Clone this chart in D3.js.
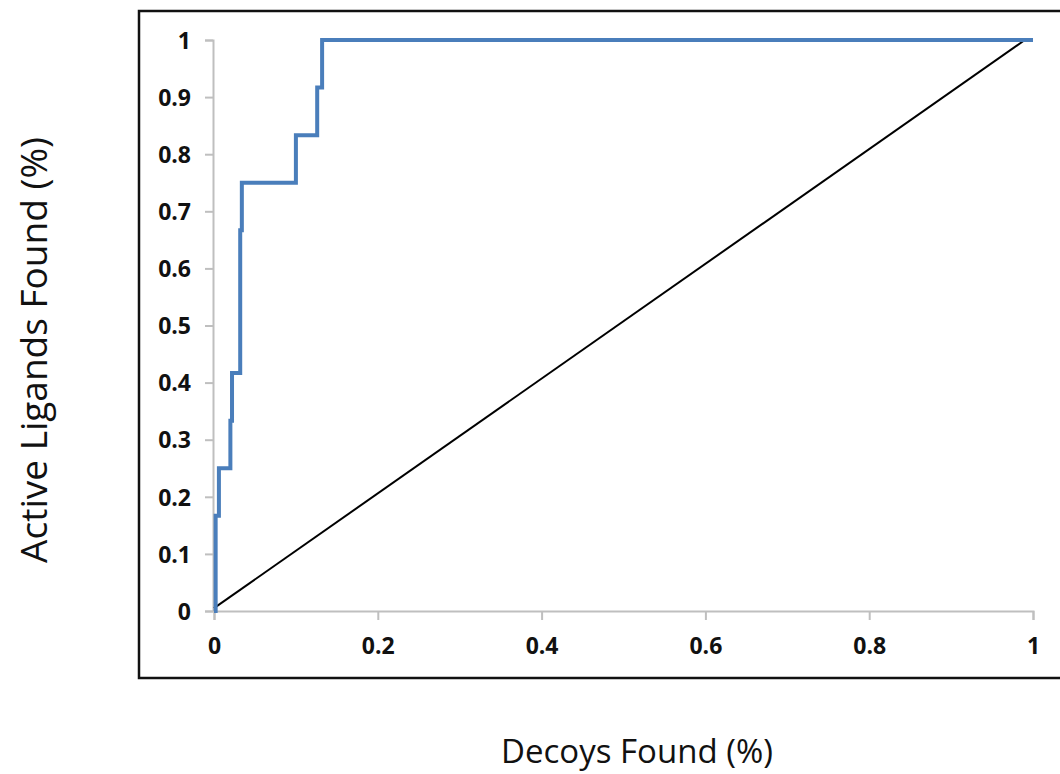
<!DOCTYPE html>
<html>
<head>
<meta charset="utf-8">
<script src="https://cdn.jsdelivr.net/npm/d3@7"></script>
<style>
  body { margin: 0; background: #fff; }
</style>
</head>
<body>
<div id="grafica"></div>
<script>
// datos de la curva ROC (fraccion de decoys, fraccion de activos)
decoys  = [0, 0.002, 0.002, 0.006, 0.020, 0.022, 0.032, 0.032, 0.032, 0.034, 0.100, 0.126, 0.132, 1.0]
activos = [0, 0.083, 0.167, 0.250, 0.333, 0.417, 0.500, 0.583, 0.667, 0.750, 0.833, 0.917, 1.000, 1.0]

// linea de referencia (azar)
azar_x = [0, 0.99]
azar_y = [0.005, 1]

xTicks = [0, 0.2, 0.4, 0.6, 0.8, 1]
yTicks = [0, 0.1, 0.2, 0.3, 0.4, 0.5, 0.6, 0.7, 0.8, 0.9, 1]

ancho_total = 1060
alto_total  = 774

svg = d3
        .select('#grafica')
        .append('svg')
        .attr('width', ancho_total)
        .attr('height', alto_total)

// marco del grafico
svg.append('rect')
    .attr('x', 139)
    .attr('y', 11)
    .attr('width', 1000)
    .attr('height', 667)
    .attr('fill', 'none')
    .attr('stroke', '#111')
    .attr('stroke-width', 2.5)

x = d3.scaleLinear().domain([0, 1]).range([214, 1033])
y = d3.scaleLinear().domain([0, 1]).range([611, 40])

xAxisCall = d3.axisBottom(x)
              .tickValues(xTicks)
              .tickFormat(d3.format('~g'))
              .tickSize(9)
              .tickPadding(14)
yAxisCall = d3.axisLeft(y)
              .tickValues(yTicks)
              .tickFormat(d3.format('~g'))
              .tickSize(8)
              .tickPadding(14)

xGroup = svg.append('g')
  .attr('transform', `translate(0, ${y(0)})`)
  .call(xAxisCall)
yGroup = svg.append('g')
  .attr('transform', `translate(${x(0) - 1}, 0)`)
  .call(yAxisCall)

;[xGroup, yGroup].forEach((gr) => {
  gr.selectAll('path.domain, line')
    .attr('stroke', '#bfbfbf')
    .attr('stroke-width', 2)
  gr.selectAll('text')
    .attr('font-family', 'Open Sans')
    .attr('font-weight', 'bold')
    .attr('font-size', '23px')
    .attr('fill', '#111')
})
xGroup.selectAll('text').attr('dy', '0.85em')
yGroup.selectAll('text').attr('dy', '0.36em')

// linea diagonal
svg.append('path')
  .datum(d3.zip(azar_x, azar_y))
  .attr('d', d3.line().x((d) => x(d[0])).y((d) => y(d[1])))
  .attr('fill', 'none')
  .attr('stroke', '#000')
  .attr('stroke-width', 2)

// curva ROC escalonada
svg.append('path')
  .datum(d3.zip(decoys, activos))
  .attr('d', d3.line()
                .curve(d3.curveStepAfter)
                .x((d) => x(d[0]))
                .y((d) => y(d[1])))
  .attr('fill', 'none')
  .attr('stroke', '#4a7ebb')
  .attr('stroke-width', 4)

// titulos de los ejes
svg.append('text')
  .attr('x', 637)
  .attr('y', 763)
  .attr('text-anchor', 'middle')
  .attr('font-family', 'Open Sans')
  .attr('font-size', '33px')
  .attr('fill', '#111')
  .text('Decoys Found (%)')

svg.append('text')
  .attr('transform', 'translate(47, 350) rotate(-90)')
  .attr('text-anchor', 'middle')
  .attr('font-family', 'Open Sans')
  .attr('font-size', '37px')
  .attr('fill', '#111')
  .text('Active Ligands Found (%)')
</script>
</body>
</html>
